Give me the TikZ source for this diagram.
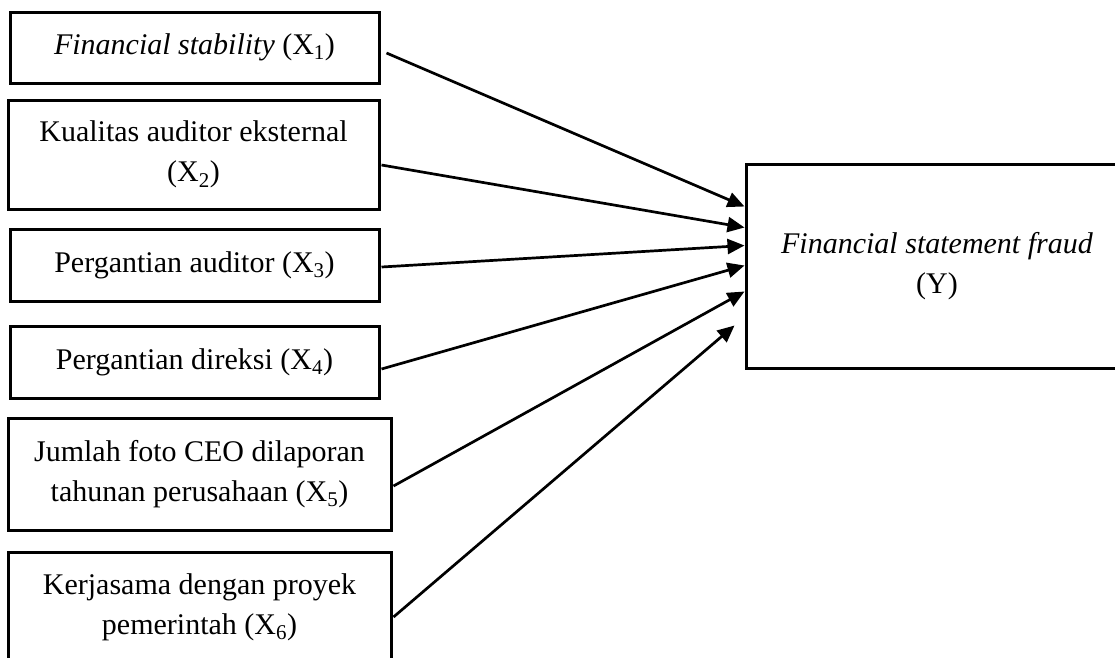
\documentclass[tikz,border=0pt]{standalone}
\usepackage{fontspec}
\setmainfont{Liberation Serif}
\usetikzlibrary{arrows.meta,calc}

\begin{document}
\begin{tikzpicture}[x=1pt, y=-1pt,
    varbox/.style={draw, line width=3pt, rectangle, align=center, inner sep=0pt,
      font=\fontsize{30}{40}\selectfont},
    link/.style={line width=2.7pt, -{Triangle[length=17pt, width=15pt]}}]
  \useasboundingbox (0,0) rectangle (1115,657);
  % Nodes
  \node[varbox, minimum width=369pt, minimum height=71pt] (x1) at (194.5,47.5) {\textit{Financial stability} (X\textsubscript{1})};
  \node[varbox, minimum width=371pt, minimum height=109pt] (x2) at (193.5,154.5) {Kualitas auditor eksternal\\(X\textsubscript{2})};
  \node[varbox, minimum width=369pt, minimum height=72pt] (x3) at (194.5,265) {Pergantian auditor (X\textsubscript{3})};
  \node[varbox, minimum width=369pt, minimum height=72pt] (x4) at (194.5,362) {Pergantian direksi (X\textsubscript{4})};
  \node[varbox, minimum width=383pt, minimum height=112pt] (x5) at (199.5,474) {Jumlah foto CEO dilaporan\\tahunan perusahaan (X\textsubscript{5})};
  \node[varbox, minimum width=383pt, minimum height=110pt] (x6) at (199.5,607) {Kerjasama dengan proyek\\pemerintah (X\textsubscript{6})};
  \node[varbox, minimum width=382pt, minimum height=204pt] (fsf) at (937,266) {\textit{Financial statement fraud}\\(Y)};

  % Edges
  \draw[link] ($(x1.east)+(6,5.5)$) -- ($(fsf.north west)+(0,44)$);
  \draw[link] ($(x2.east)+(1,10.5)$) -- ($(fsf.north west)+(0,65)$);
  \draw[link] ($(x3.east)+(1,2)$) -- ($(fsf.north west)+(0,83)$);
  \draw[link] ($(x4.east)+(1,7)$) -- ($(fsf.north west)+(0,103)$);
  \draw[link] ($(x5.east)+(1,12)$) -- ($(fsf.north west)+(0,129)$);
  \draw[link] ($(x6.east)+(1,10)$) -- ($(fsf.north west)+(-10,163)$);
\end{tikzpicture}
\end{document}
